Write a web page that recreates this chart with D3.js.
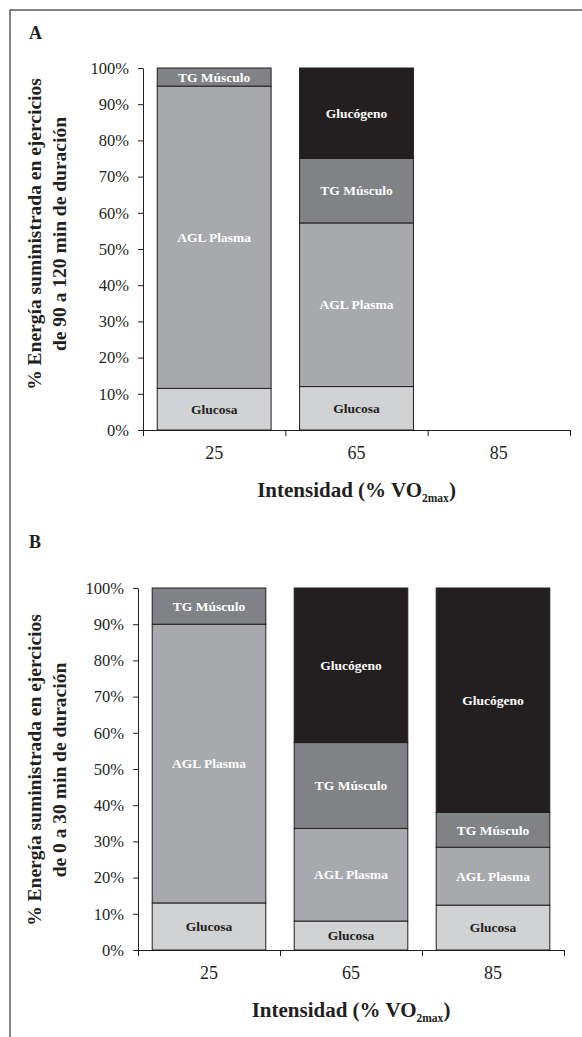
<!DOCTYPE html>
<html>
<head>
<meta charset="utf-8">
<script src="https://cdn.jsdelivr.net/npm/d3@7"></script>
<style>
  body { margin: 0; background: #fff; }
  svg { display: block; font-family: "Liberation Serif", "DejaVu Serif", serif; }
</style>
</head>
<body>
<script>
// categories
const intensities = ["25", "65", "85"];
const sources = ["Glucosa", "AGL Plasma", "TG Músculo", "Glucógeno"];
const yTicks = [0, 10, 20, 30, 40, 50, 60, 70, 80, 90, 100];

// A: 90-120 min
const glucosaA = [11.5, 12, 0];
const aglA = [83.5, 45.2, 0];
const tgA = [5, 17.8, 0];
const glucogenoA = [0, 25, 0];

// B: 0-30 min
const glucosaB = [13, 8, 12.4];
const aglB = [77, 25.6, 16];
const tgB = [10, 23.7, 9.6];
const glucogenoB = [0, 42.7, 62];

const fills = { "Glucosa": "#d1d2d4", "AGL Plasma": "#a7a9ac", "TG Músculo": "#808285", "Glucógeno": "#231f20" };
const ink = "#231f20";

var svg = d3.select("body").append("svg").attr("width", 582).attr("height", 1037);

svg.append("path")
  .attr("d", "M10,1037V10H582")
  .attr("fill", "none")
  .attr("stroke", "#5a5a5a")
  .attr("stroke-width", 1.5);

function drawPanel(p) {
  var x = d3.scaleBand().domain(intensities).range([p.left, p.right])
      .paddingInner(0.2).paddingOuter(0.1),
    xb = d3.scaleLinear().domain([0, intensities.length]).range([p.left, p.right]),
    y = d3.scaleLinear().domain([0, 100]).range([p.bottom, p.top]);

  const rows = intensities.map((k, i) => {
    const r = { intensity: k };
    sources.forEach((s, j) => (r[s] = p.series[j][i]));
    return r;
  });
  const stacked = d3.stack().keys(sources)(rows);

  var g = svg.append("g");

  g.append("text")
    .attr("x", p.letterX).attr("y", p.letterY)
    .attr("font-size", 18).attr("font-weight", "bold").attr("fill", ink)
    .text(p.letter);

  const layer = g.selectAll(".layer")
    .data(stacked)
    .enter()
    .append("g")
    .attr("class", "layer");

  const seg = layer.selectAll("g")
    .data(d => d.map(v => ({ key: d.key, v: v })).filter(o => o.v[1] - o.v[0] > 0))
    .enter()
    .append("g");

  seg.append("rect")
    .attr("x", d => x(d.v.data.intensity))
    .attr("y", d => y(d.v[1]))
    .attr("width", x.bandwidth())
    .attr("height", d => y(d.v[0]) - y(d.v[1]))
    .attr("fill", d => fills[d.key])
    .attr("stroke", ink)
    .attr("stroke-width", 1);

  seg.append("text")
    .attr("x", d => x(d.v.data.intensity) + x.bandwidth() / 2)
    .attr("y", d => y((d.v[0] + d.v[1]) / 2))
    .attr("dy", "0.35em")
    .attr("text-anchor", "middle")
    .attr("font-size", 13.5)
    .attr("font-weight", "bold")
    .attr("fill", d => (d.key === "Glucosa" ? ink : "#fff"))
    .text(d => d.key);

  // y axis
  const ya = g.append("g")
    .attr("transform", `translate(${p.left},0)`)
    .call(d3.axisLeft(y).tickValues(yTicks).tickFormat(d => d + "%")
      .tickSize(5).tickSizeOuter(0).tickPadding(9))
    .attr("font-family", null)
    .attr("font-size", 16.5);
  ya.selectAll("text").attr("fill", ink);
  ya.selectAll("line,path").attr("stroke", ink);

  // x axis: ticks at band edges
  const xa = g.append("g")
    .attr("transform", `translate(0,${p.bottom})`)
    .call(d3.axisBottom(xb).tickValues(d3.range(intensities.length + 1))
      .tickFormat("").tickSize(6).tickSizeOuter(0));
  xa.selectAll("line,path").attr("stroke", ink);

  const xl = g.append("g")
    .attr("transform", `translate(0,${p.bottom})`)
    .call(d3.axisBottom(x).tickSize(0).tickPadding(16))
    .attr("font-family", null)
    .attr("font-size", 18);
  xl.select(".domain").remove();
  xl.selectAll("text").attr("fill", ink);

  // axis titles
  p.titleLines.forEach((t, i) => {
    g.append("text")
      .attr("transform", `translate(${p.titleX[i]},${p.titleCenter}) rotate(-90)`)
      .attr("text-anchor", "middle")
      .attr("font-size", 19.5)
      .attr("font-weight", "bold")
      .attr("fill", ink)
      .text(t);
  });

  const xt = g.append("text")
    .attr("x", (p.left + p.right) / 2)
    .attr("y", p.xTitleY)
    .attr("text-anchor", "middle")
    .attr("font-size", 21)
    .attr("font-weight", "bold")
    .attr("fill", ink);
  xt.append("tspan").text("Intensidad (% VO");
  xt.append("tspan").attr("font-size", 11.5).attr("dy", 5).text("2max");
  xt.append("tspan").attr("dy", -5).text(")");
}

drawPanel({
  letter: "A", letterX: 29, letterY: 39,
  left: 143, right: 570, top: 68, bottom: 430,
  series: [glucosaA, aglA, tgA, glucogenoA],
  titleLines: ["% Energía suministrada en ejercicios", "de 90 a 120 min de duración"],
  titleX: [41, 66], titleCenter: 234,
  xTitleY: 497
});

drawPanel({
  letter: "B", letterX: 29, letterY: 548,
  left: 138, right: 564, top: 588, bottom: 950,
  series: [glucosaB, aglB, tgB, glucogenoB],
  titleLines: ["% Energía suministrada en ejercicios", "de 0 a 30 min de duración"],
  titleX: [41, 66], titleCenter: 770,
  xTitleY: 1017
});
</script>
</body>
</html>
